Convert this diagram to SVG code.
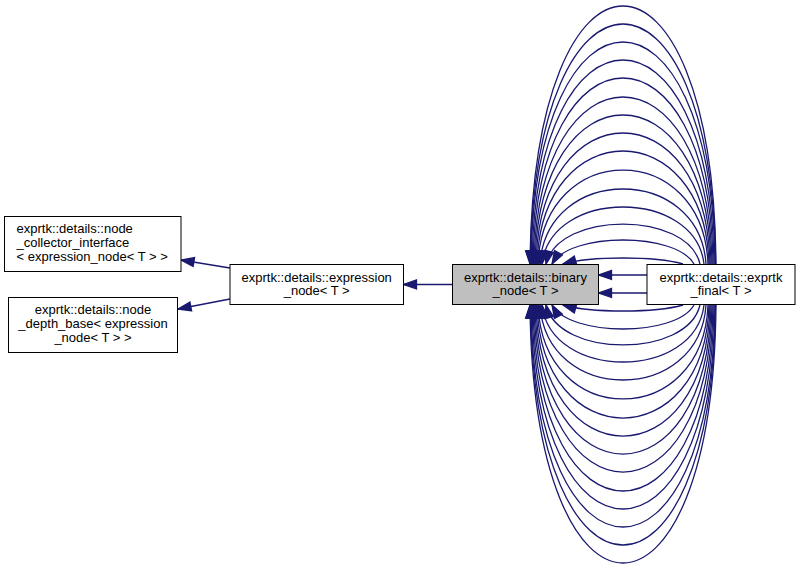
<svg xmlns="http://www.w3.org/2000/svg" width="800" height="569" viewBox="0 0 800 569">
<style>
.box{fill:#ffffff;stroke:#000000;stroke-width:1}
.cur{fill:#bfbfbf;stroke:#000000;stroke-width:1}
.lbl{font-family:"Liberation Sans",Arial,Helvetica,sans-serif;font-size:13px;fill:#000000}
.c{text-anchor:middle}
.e{fill:none;stroke:#191970;stroke-width:1.3;marker-end:url(#ah)}
</style>
<defs>
<marker id="ah" markerUnits="userSpaceOnUse" markerWidth="16" markerHeight="12" refX="14" refY="5.5" orient="auto" overflow="visible">
<path d="M1,1 L14,5.5 L1,10 Z" fill="#191970" stroke="#191970" stroke-width="1.3"/>
</marker>
</defs>
<rect width="800" height="569" fill="#ffffff"/>
<g id="connectors">
<path class="e" d="M230,268 L181,260"/>
<path class="e" d="M230,299 L178,309"/>
<path class="e" d="M452,284.5 L403.5,284.5"/>
<path class="e" d="M647,275 L598.5,275"/>
<path class="e" d="M647,293 L598.5,293"/>
<path class="e" d="M716,264 C713,-80 533,-80 530,264"/>
<path class="e" d="M715.5,264 C712.5,-56 533.5,-56 530.5,264"/>
<path class="e" d="M715,264 C712,-32 534,-32 531,264"/>
<path class="e" d="M714,264 C711,-8 535,-8 532,264"/>
<path class="e" d="M713,264 C710,16 536,16 533,264"/>
<path class="e" d="M712,264 C708.7,41.3 537.3,41.3 534,264"/>
<path class="e" d="M711,264 C707.6,65.3 538.4,65.3 535,264"/>
<path class="e" d="M710,264 C706.3,89.3 539.7,89.3 536,264"/>
<path class="e" d="M709,264 C704.8,113.3 541.2,113.3 537,264"/>
<path class="e" d="M708,264 C703,138.7 543,138.7 538,264"/>
<path class="e" d="M706,264 C699.5,164 546.5,164 540,264"/>
<path class="e" d="M704,264 C695.1,188 550.9,188 542,264"/>
<path class="e" d="M700,264 C687.4,210.7 558.6,210.7 546,264"/>
<path class="e" d="M694,264 C675.9,232 570.1,232 552,264"/>
<path class="e" d="M683,264 C654.7,256 591.3,256 563,264"/>
<path class="e" d="M716,305 C713,649 533,649 530,305"/>
<path class="e" d="M715.5,305 C712.5,625 533.5,625 530.5,305"/>
<path class="e" d="M715,305 C712,601 534,601 531,305"/>
<path class="e" d="M714,305 C711,577 535,577 532,305"/>
<path class="e" d="M713,305 C710,553 536,553 533,305"/>
<path class="e" d="M712,305 C708.7,527.7 537.3,527.7 534,305"/>
<path class="e" d="M711,305 C707.6,503.7 538.4,503.7 535,305"/>
<path class="e" d="M710,305 C706.3,479.7 539.7,479.7 536,305"/>
<path class="e" d="M709,305 C704.8,455.7 541.2,455.7 537,305"/>
<path class="e" d="M708,305 C703,430.3 543,430.3 538,305"/>
<path class="e" d="M706,305 C699.5,405 546.5,405 540,305"/>
<path class="e" d="M704,305 C695.1,381 550.9,381 542,305"/>
<path class="e" d="M700,305 C687.4,358.3 558.6,358.3 546,305"/>
<path class="e" d="M694,305 C675.9,337 570.1,337 552,305"/>
<path class="e" d="M683,305 C654.7,313 591.3,313 563,305"/>
</g>
<g id="node_collector_interface">
<rect class="box" x="4.5" y="216.5" width="176.5" height="55"/>
<text class="lbl" x="16.5" y="232.5">exprtk::details::node</text>
<text class="lbl" x="16.5" y="246.5">_collector_interface</text>
<text class="lbl" x="16.5" y="260.5">&lt; expression_node&lt; T &gt; &gt;</text>
</g>
<g id="node_depth_base">
<rect class="box" x="8.5" y="297.5" width="169" height="55"/>
<text class="lbl c" x="93" y="313.5">exprtk::details::node</text>
<text class="lbl c" x="93" y="327.5">_depth_base&lt; expression</text>
<text class="lbl c" x="93" y="341.5">_node&lt; T &gt; &gt;</text>
</g>
<g id="node_expression_node">
<rect class="box" x="230" y="264.5" width="173.5" height="40"/>
<text class="lbl c" x="316.7" y="281.5">exprtk::details::expression</text>
<text class="lbl c" x="316.7" y="295">_node&lt; T &gt;</text>
</g>
<g id="node_binary_node">
<rect class="cur" x="452.5" y="264.5" width="146" height="40"/>
<text class="lbl c" x="525.5" y="281.5">exprtk::details::binary</text>
<text class="lbl c" x="525.5" y="295">_node&lt; T &gt;</text>
</g>
<g id="node_exprtk_final">
<rect class="box" x="647" y="264.5" width="148" height="40"/>
<text class="lbl c" x="721" y="281.5">exprtk::details::exprtk</text>
<text class="lbl c" x="721" y="295">_final&lt; T &gt;</text>
</g>
</svg>
